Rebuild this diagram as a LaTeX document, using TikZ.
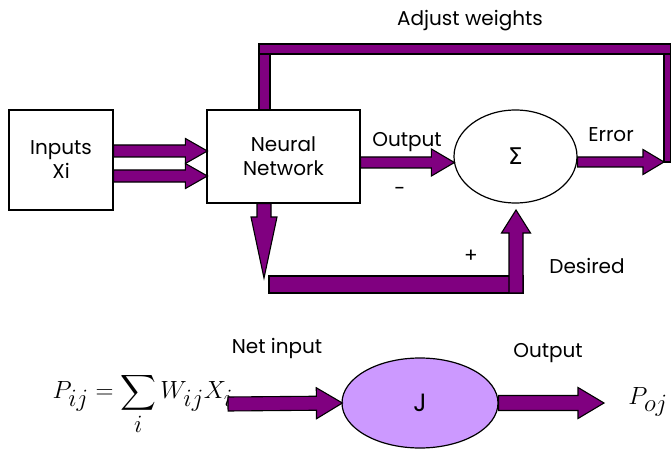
\documentclass[tikz,border=0pt]{standalone}
\usepackage{amsmath}
\usepackage{fontspec}
\setmainfont{Poppins}
\newfontfamily\greekfont{DejaVu Sans}
\usepackage{xcolor}
\definecolor{Plum}{HTML}{800080}
\definecolor{Lilac}{HTML}{CC99FF}
\usepackage{tikz}
\usetikzlibrary{calc,shapes.geometric}

% fat block arrow: from, to, shaft half width, head half width, head length
\newcommand{\fatarrow}[5]{%
  \coordinate (hb) at ($(#2)!#5!(#1)$);
  \filldraw[fat] ($(#1)!#3!90:(#2)$) -- ($(hb)!#3!90:(#2)$)
    -- ($(hb)!#4!90:(#2)$) -- (#2) -- ($(hb)!#4!-90:(#2)$)
    -- ($(hb)!#3!-90:(#2)$) -- ($(#1)!#3!-90:(#2)$) -- cycle;}

\begin{document}
\begin{tikzpicture}[
  x=1pt, y=-1pt,
  font=\fontsize{20}{24}\selectfont,
  box/.style={draw, line width=1.2pt, align=center, inner sep=0pt},
  fat/.style={fill=Plum, draw=black, line width=1.1pt, line join=miter},
  lbl/.style={inner sep=0pt}
]
  \useasboundingbox (0,0) rectangle (671,449);

  % blocks
  \node[box, minimum width=104pt, minimum height=100pt] (inputs) at (61,160) {Inputs\\Xi};
  \node[box, minimum width=153pt, minimum height=93pt] (nn) at (283.5,156.5) {Neural\\Network};
  \node[box, ellipse, minimum width=123pt, minimum height=93pt] (sum) at (515.5,156.5)
    {\greekfont\fontsize{23}{26}\selectfont Σ};

  % forward arrows
  \fatarrow{$(inputs.east)+(0,-9)$}{$(nn.west)+(1,-5.5)$}{6pt}{12.5pt}{22pt}
  \fatarrow{$(inputs.east)+(0,16)$}{$(nn.west)+(1,19.5)$}{6pt}{12.5pt}{22pt}
  \fatarrow{$(nn.east)+(0,6)$}{$(sum.west)+(1,6)$}{5.5pt}{13.5pt}{23pt}
  \coordinate (errtip) at (664,162);
  \fatarrow{$(sum.east)+(0,5.5)$}{errtip}{5pt}{12.5pt}{21pt}

  % adjust weights loop
  \filldraw[fat] (259,44) rectangle (671,54);
  \filldraw[fat] ($(nn.north)+(-24.5,0)$) rectangle (270,54);
  \filldraw[fat] (664,54) rectangle (errtip -| 671,0);

  % desired path
  \coordinate (dtip) at (264,278);
  \fatarrow{$(nn.south)+(-19.5,0)$}{dtip}{7pt}{13pt}{61pt}
  \filldraw[fat] (269,276) rectangle (523,293);
  \coordinate (utip) at (516,210);
  \fatarrow{516,293}{utip}{7pt}{14.5pt}{23pt}

  % labels
  \node[lbl] (adjlbl) at (470,21) {Adjust weights};
  \node[lbl] (outlbl) at (407,142) {Output};
  \node[lbl] (minus) at (400,191) {-};
  \node[lbl] (errlbl) at (611,135) {Error};
  \node[lbl] (plus) at (471,256) {+};
  \node[lbl] (deslbl) at (587,266) {Desired};

  % neuron model
  \node[lbl, anchor=east] (formula) at (233,404)
    {\fontsize{33}{38}\selectfont$\displaystyle P_{ij}=\sum_i W_{ij}X_i$};
  \node[box, ellipse, fill=Lilac, minimum width=156pt, minimum height=90pt] (jnode) at (420,403)
    {\fontsize{25}{28}\selectfont J};
  \node[lbl] (poj) at (648,402) {\fontsize{33}{38}\selectfont$P_{oj}$};
  \fatarrow{228,404}{$(jnode.west)+(1,0)$}{7pt}{15.5pt}{26pt}
  \coordinate (ptip) at (604,403);
  \fatarrow{jnode.east}{ptip}{7.5pt}{15.5pt}{26pt}
  \node[lbl] (netlbl) at (277,348) {Net input};
  \node[lbl] (outlbl2) at (548,353) {Output};
\end{tikzpicture}
\end{document}
